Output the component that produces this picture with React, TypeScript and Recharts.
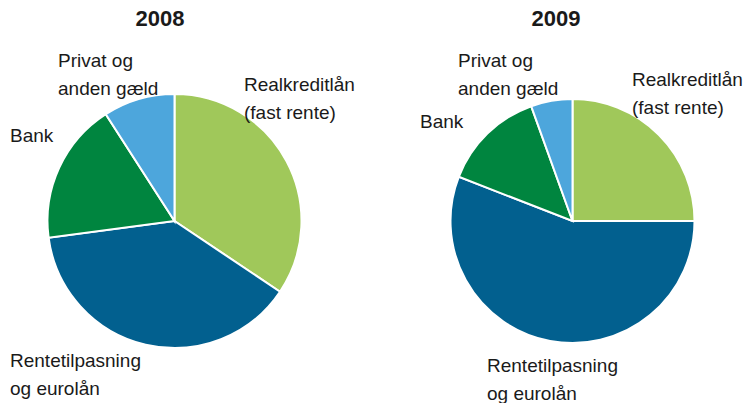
import { PieChart, Pie, Cell } from 'recharts';

const CATEGORIES = ['Realkreditlån (fast rente)', 'Rentetilpasning og eurolån', 'Bank', 'Privat og anden gæld'];
const YEARS = ['2008', '2009'];
const SHARE_2008 = [34.4, 38.5, 18.0, 9.1];
const SHARE_2009 = [25.0, 55.9, 13.6, 5.5];
const COLORS = ['#a0c85a', '#02608f', '#00853f', '#4da6dc'];

const data08 = CATEGORIES.map((name, i) => ({ name, value: SHARE_2008[i] }));
const data09 = CATEGORIES.map((name, i) => ({ name, value: SHARE_2009[i] }));

const FONT = "'Liberation Sans Narrow', 'Liberation Sans', sans-serif";

// label lines + where they sit (left x, first baseline)
const LABELS_08 = [
  { lines: ['Realkreditlån', '(fast rente)'], x: 244, y: 91 },
  { lines: ['Rentetilpasning', 'og eurolån'], x: 10, y: 367 },
  { lines: ['Bank'], x: 10, y: 142 },
  { lines: ['Privat og', 'anden gæld'], x: 58, y: 67 },
];
const LABELS_09 = [
  { lines: ['Realkreditlån', '(fast rente)'], x: 632, y: 86 },
  { lines: ['Rentetilpasning', 'og eurolån'], x: 487, y: 372 },
  { lines: ['Bank'], x: 420, y: 128 },
  { lines: ['Privat og', 'anden gæld'], x: 458, y: 67 },
];

export default function App() {
  return (
    <div style={{ position: 'absolute', left: 0, top: 0, width: 748, height: 403, background: '#fff' }}>
      <PieChart width={748} height={403} margin={{ top: 0, right: 0, bottom: 0, left: 0 }}>
        <Pie data={data08} dataKey="value" nameKey="name" cx={174.5} cy={221} outerRadius={127}
          startAngle={90} endAngle={-270} stroke="#fff" strokeWidth={2} isAnimationActive={false}>
          {data08.map((d, i) => <Cell key={d.name} fill={COLORS[i]} />)}
        </Pie>
        <Pie data={data09} dataKey="value" nameKey="name" cx={572.5} cy={221} outerRadius={122}
          startAngle={90} endAngle={-270} stroke="#fff" strokeWidth={2} isAnimationActive={false}>
          {data09.map((d, i) => <Cell key={d.name} fill={COLORS[i]} />)}
        </Pie>
      </PieChart>
      <svg width={748} height={403} style={{ position: 'absolute', left: 0, top: 0, pointerEvents: 'none' }}>
        <text x={160} y={26} textAnchor="middle" fontFamily={FONT} fontWeight="bold" fontSize={22} fill="#1a1a1a">{YEARS[0]}</text>
        <text x={556} y={26} textAnchor="middle" fontFamily={FONT} fontWeight="bold" fontSize={22} fill="#1a1a1a">{YEARS[1]}</text>
        {[...LABELS_08, ...LABELS_09].map((l, i) => (
          <text key={i} x={l.x} y={l.y} fontFamily={FONT} fontSize={19} fill="#1a1a1a">
            {l.lines.map((ln, j) => (
              <tspan key={j} x={l.x} dy={j === 0 ? 0 : 28}>{ln}</tspan>
            ))}
          </text>
        ))}
      </svg>
    </div>
  );
}
